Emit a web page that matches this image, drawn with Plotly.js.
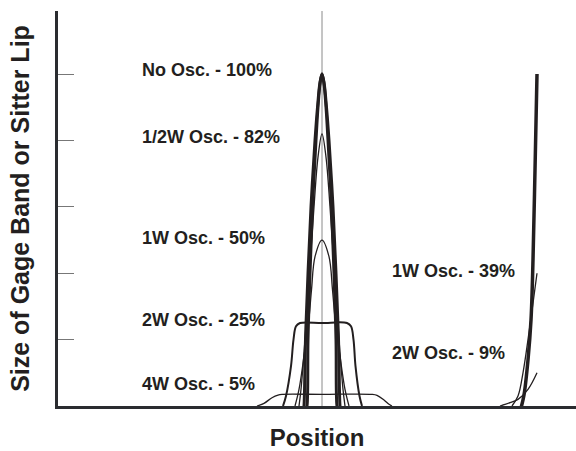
<!DOCTYPE html>
<html>
<head>
<meta charset="utf-8">
<script src="https://cdn.plot.ly/plotly-3.0.1.min.js"></script>
<style>html,body{margin:0;padding:0;background:#fff;}#chart{width:576px;height:451px;}</style>
</head>
<body>
<div id="chart"></div>
<script>
// Position (tens of pixels from the centre line) and relative size
const noOscAX = [-1.6, -1.5, -1.4, -1.2, -0.95, -0.6, -0.4, -0.2, 0, 0.2, 0.4, 0.6, 0.95, 1.2, 1.4, 1.5, 1.6];
const noOscAY = [-0.01, 0.0, 0.2, 0.4, 0.6, 0.8, 0.9, 0.97, 1.0, 0.97, 0.9, 0.8, 0.6, 0.4, 0.2, 0.0, -0.01];
const noOscBX = [-1.85, -1.8, -1.65, -1.4, -1.1, -0.7, -0.45, -0.2, 0, 0.2, 0.45, 0.7, 1.1, 1.4, 1.65, 1.8, 1.85];
const noOscBY = [-0.01, 0.0, 0.2, 0.4, 0.6, 0.8, 0.9, 0.975, 1.0, 0.975, 0.9, 0.8, 0.6, 0.4, 0.2, 0.0, -0.01];
const halfWX = [-2.3, -2.1, -1.7, -1.25, -0.8, -0.4, 0, 0.4, 0.8, 1.25, 1.7, 2.1, 2.3];
const halfWY = [0.0, 0.05, 0.2, 0.4, 0.6, 0.75, 0.82, 0.75, 0.6, 0.4, 0.2, 0.05, 0.0];
const oneWX = [-2.7, -2.3, -1.8, -1.35, -1.05, -0.7, 0, 0.7, 1.05, 1.35, 1.8, 2.3, 2.7];
const oneWY = [0.0, 0.05, 0.15, 0.25, 0.35, 0.45, 0.5, 0.45, 0.35, 0.25, 0.15, 0.05, 0.0];
const twoWX = [-3.9, -3.6, -3.1, -2.85, -2.6, -2.2, 0, 2.5, 2.9, 3.15, 3.35, 3.75, 4.0];
const twoWY = [0.0, 0.03, 0.12, 0.2, 0.24, 0.25, 0.25, 0.25, 0.24, 0.2, 0.12, 0.03, 0.0];
const fourWX = [-6.5, -5.8, -5.0, -4.4, -4.0, 0, 5.0, 5.5, 6.2, 6.7, 7.0];
const fourWY = [0.0, 0.008, 0.025, 0.033, 0.035, 0.035, 0.035, 0.032, 0.018, 0.005, 0.0];
// edge (sitter lip) profiles at the right
const edgeNoOscX = [19.9, 20.2, 20.6, 20.9, 21.1, 21.3, 21.5];
const edgeNoOscY = [-0.006, 0.033, 0.139, 0.259, 0.44, 0.71, 1.0];
const edgeOneWX = [19.0, 19.6, 20.1, 20.6, 21.1, 21.5];
const edgeOneWY = [0.0, 0.03, 0.1, 0.2, 0.31, 0.40];
const edgeTwoWX = [17.8, 18.8, 19.6, 20.6, 21.5];
const edgeTwoWY = [0.0, 0.01, 0.02, 0.05, 0.10];
// centre line
const centreX = [0, 0];
const centreY = [0, 1.19];
// labels
const labelTexts = ['No Osc. - 100%', '1/2W Osc. - 82%', '1W Osc. - 50%', '2W Osc. - 25%', '4W Osc. - 5%', '1W Osc. - 39%', '2W Osc. - 9%'];
const labelX = [-18.2, -18.2, -18.2, -18.2, -18.2, 6.8, 6.8];
const labelY = [1.012, 0.81, 0.506, 0.259, 0.066, 0.407, 0.16];
const yTicks = [0.2, 0.4, 0.6, 0.8, 1.0];

const ink = '#231f20';
function curve(x, y, w, shape) {
  return {x: x, y: y, type: 'scatter', mode: 'lines', hoverinfo: 'skip',
          line: {color: ink, width: w, shape: shape || 'spline', smoothing: 1}};
}
const traces = [
  {x: centreX, y: centreY, type: 'scatter', mode: 'lines', hoverinfo: 'skip', line: {color: '#8a8a8a', width: 1}},
  curve(fourWX, fourWY, 1.3),
  curve(twoWX, twoWY, 2),
  curve(oneWX, oneWY, 1.3),
  curve(halfWX, halfWY, 1.3),
  curve(noOscBX, noOscBY, 3),
  curve(noOscAX, noOscAY, 3),
  curve(edgeTwoWX, edgeTwoWY, 1.3),
  curve(edgeOneWX, edgeOneWY, 1.3),
  curve(edgeNoOscX, edgeNoOscY, 3.5)
];
const lblFont = {family: 'Liberation Sans, Arial, sans-serif', size: 18, weight: 'bold', color: ink};
const annotations = labelTexts.map((t, i) => ({
  text: t, x: labelX[i], y: labelY[i], xref: 'x', yref: 'y',
  xanchor: 'left', yanchor: 'middle', showarrow: false, font: lblFont
}));
const layout = {
  width: 576, height: 451,
  margin: {l: 58, r: 0, t: 11, b: 45},
  paper_bgcolor: '#fff', plot_bgcolor: '#fff',
  showlegend: false,
  xaxis: {range: [-26.4, 25.4], showgrid: false, zeroline: false, showticklabels: false, ticks: '',
          showline: true, linewidth: 3, linecolor: '#2a2c30', fixedrange: true,
          title: {text: 'Position', standoff: 22,
                  font: {family: 'Liberation Sans, Arial, sans-serif', size: 24, weight: 'bold', color: ink}}},
  yaxis: {range: [0, 1.19], showgrid: false, zeroline: false, showticklabels: false,
          tickvals: yTicks, ticks: 'inside', ticklen: 16, tickwidth: 1, tickcolor: '#777',
          showline: true, linewidth: 3, linecolor: '#2a2c30', fixedrange: true,
          title: {text: 'Size of Gage Band or Sitter Lip', standoff: 19,
                  font: {family: 'Liberation Sans, Arial, sans-serif', size: 25, weight: 'bold', color: ink}}},
  annotations: annotations
};
Plotly.newPlot('chart', traces, layout, {displayModeBar: false, staticPlot: true});
</script>
</body>
</html>
